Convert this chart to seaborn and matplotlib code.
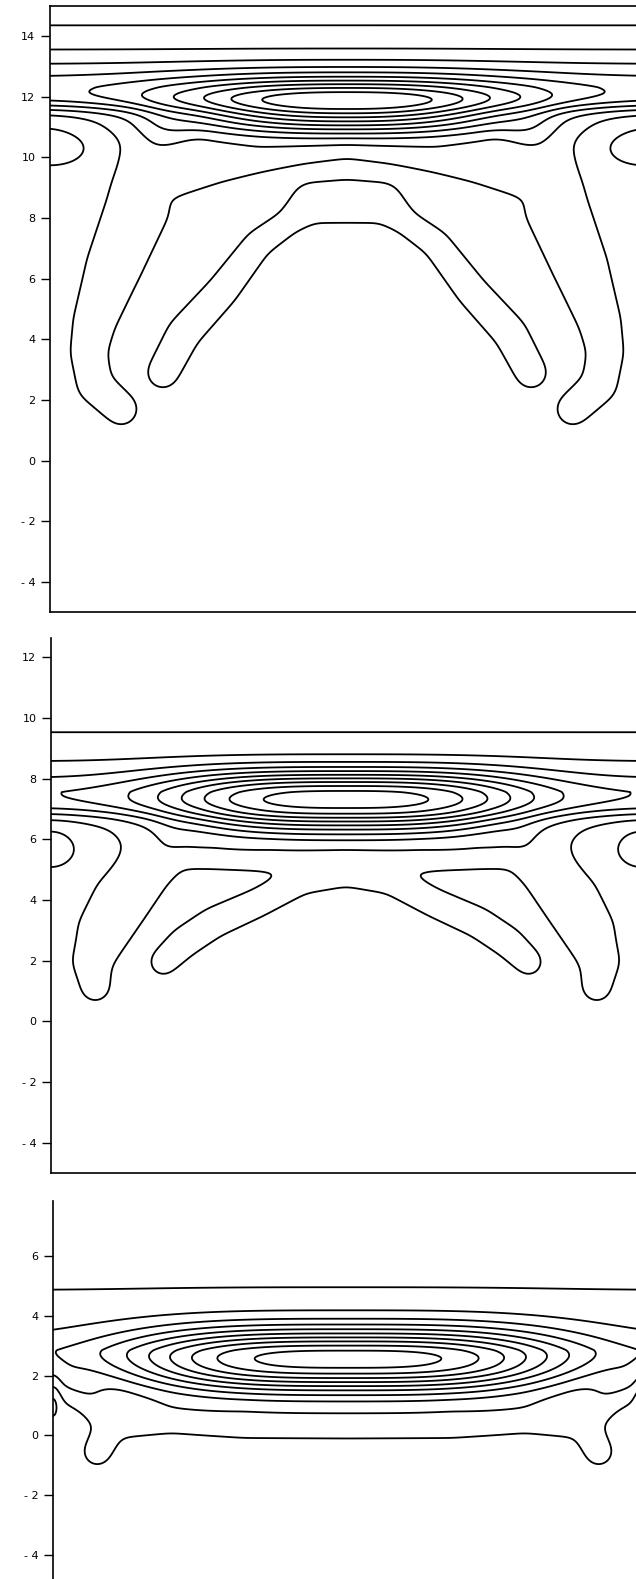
import numpy as np
import matplotlib
matplotlib.use("Agg")
import matplotlib.pyplot as plt
import seaborn as sns

sns.set_style("ticks")
plt.rcParams['font.family'] = ['DejaVu Sans']

# one unit of height measured in units of width on the page
ASPECT = 30.3 / 296.0
background = 0.5
levels = list(range(0, 11))

# ---------- panel 1 (top) ----------
p1_ylim = (-5, 15)
p1_ticks = [-4, -2, 0, 2, 4, 6, 8, 10, 12, 14]
p1_band = [4.1, 12.3, 1.25, 1.5, 0.72, 3.0]            # amp, y0, up scale, up power, down scale, down power
p1_vortex = [7.9, 11.6, 0.6, 2.5, 0.9, 2.0, 0.9, 2.0]  # amp, y0, x scale, x power, up s, up p, down s, down p
p1_lobe = [-1.0, 10.4, 0.16, 0.8]                      # amp, y0, x scale, y scale (side walls)
p1_tongue_x = [-0.62, -0.68, -0.705, -0.785, -0.85, -0.87, -0.85, -0.76]
p1_tongue_y = [10.6, 9.7, 8.35, 6.4, 4.6, 3.6, 2.5, 1.7]
p1_tongue_w = [0.10, 0.11, 0.12, 0.105, 0.08, 0.068, 0.065, 0.06]
p1_tongue_a = [1.1, 1.1, 1.1, 1.1, 1.1, 1.1, 1.1, 1.1]
p1_shelf_x = [-0.6, -0.45, -0.3, -0.15, 0.0]
p1_shelf_y = [9.3, 9.75, 9.95, 10.05, 10.1]
p1_shelf_w = [0.07, 0.065, 0.05, 0.04, 0.03]
p1_shelf_a = [1.15, 1.2, 1.05, 0.6, 0.3]
p1_arch_x = [0.0, -0.12, -0.2, -0.3, -0.42, -0.55, -0.62]
p1_arch_y = [8.55, 8.5, 7.85, 7.15, 5.6, 4.2, 2.9]
p1_arch_w = [0.08, 0.075, 0.045, 0.05, 0.058, 0.062, 0.058]
p1_arch_a = [1.1, 1.1, 1.1, 1.1, 1.1, 1.1, 1.1]

# ---------- panel 2 (middle) ----------
p2_ylim = (-5, 12.63)
p2_ticks = [-4, -2, 0, 2, 4, 6, 8, 10, 12]
p2_band = [3.38, 7.55, 1.2, 1.3, 0.78, 3.0]
p2_vortex = [7.0, 6.95, 0.61, 3.0, 1.27, 3.0, 0.93, 2.0]
p2_lobe = [-1.0, 5.7, 0.1, 0.75]
p2_tongue_x = [-0.6, -0.68, -0.76, -0.82, -0.86, -0.85]
p2_tongue_y = [5.6, 5.0, 4.0, 3.0, 2.0, 1.15]
p2_tongue_w = [0.08, 0.1, 0.11, 0.1, 0.075, 0.055]
p2_tongue_a = [1.1, 1.1, 1.1, 1.1, 1.1, 1.1]
p2_shelf_x = [-0.62, -0.45, -0.25, 0.0]
p2_shelf_y = [5.6, 5.45, 5.35, 5.45]
p2_shelf_w = [0.06, 0.045, 0.045, 0.045]
p2_shelf_a = [1.1, 1.05, 0.95, 0.7]
p2_arch_x = [0.0, -0.15, -0.3, -0.45, -0.55, -0.62]
p2_arch_y = [4.9, 4.65, 3.9, 3.25, 2.6, 1.95]
p2_arch_w = [0.05, 0.05, 0.052, 0.056, 0.056, 0.048]
p2_arch_a = [1.1, 1.1, 1.1, 1.1, 1.1, 1.1]

# ---------- panel 3 (bottom) ----------
p3_ylim = (-5, 7.84)
p3_ticks = [-4, -2, 0, 2, 4, 6]
p3_band = [2.0, 2.85, 1.5, 1.1, 0.85, 2.0]
p3_vortex = [8.4, 2.4, 0.72, 3.2, 1.17, 2.2, 1.08, 2.0]
p3_lobe = [-1.0, 1.15, 0.025, 0.66]
p3_shelf_x = [0.0, -0.35, -0.6, -0.8, -0.85]
p3_shelf_y = [0.45, 0.45, 0.62, 0.4, -0.55]
p3_shelf_w = [0.068, 0.066, 0.06, 0.06, 0.055]
p3_shelf_a = [0.9, 0.9, 1.0, 1.0, 1.0]
p3_foot_x = [-0.8, -0.87, -0.95]
p3_foot_y = [0.4, 1.2, 1.75]
p3_foot_w = [0.06, 0.055, 0.055]
p3_foot_a = [1.0, 1.0, 1.0]


def profile(d, s_up, p_up, s_dn, p_dn):
    up = np.exp(-(np.clip(d, 0, None) / s_up) ** p_up)
    dn = np.exp(-(np.clip(-d, 0, None) / s_dn) ** p_dn)
    return np.where(d >= 0, up, dn)


def ridge(X, Y, xs, ys, ws, amps):
    # ridge along a broken line, mirrored about the centre
    xm = -np.abs(X)
    ys_page = Y * ASPECT
    out = np.zeros_like(X)
    for i in range(len(xs) - 1):
        ax_, ay = xs[i], ys[i] * ASPECT
        dx, dy = xs[i + 1] - ax_, ys[i + 1] * ASPECT - ay
        t = ((xm - ax_) * dx + (ys_page - ay) * dy) / (dx * dx + dy * dy)
        t = np.clip(t, 0, 1)
        d = np.hypot(xm - (ax_ + t * dx), ys_page - (ay + t * dy))
        w = ws[i] + t * (ws[i + 1] - ws[i])
        a = amps[i] + t * (amps[i + 1] - amps[i])
        out = np.maximum(out, a * np.exp(-(d / w) ** 2))
    return out


def kernel(sigma):
    r = int(3 * sigma) + 1
    k = np.exp(-0.5 * (np.arange(-r, r + 1) / sigma) ** 2)
    return k / k.sum()


def smooth(F, sig_x, sig_y):
    kx, ky = kernel(sig_x), kernel(sig_y)
    rx, ry = len(kx) // 2, len(ky) // 2
    P = np.pad(F, ((ry, ry), (rx, rx)), mode="reflect")
    P = np.apply_along_axis(lambda v: np.convolve(v, kx, mode="valid"), 1, P)
    P = np.apply_along_axis(lambda v: np.convolve(v, ky, mode="valid"), 0, P)
    return P


def build(X, Y, band, vortex, lobe, ridges):
    F = background + band[0] * profile(Y - band[1], *band[2:])
    a, y0, sx, px, su, pu, sd, pd = vortex
    F = F + a * np.exp(-(np.abs(X) / sx) ** px) * profile(Y - y0, su, pu, sd, pd)
    la, ly, lsx, lsy = lobe
    F = F + la * np.exp(-((1 - np.abs(X)) / lsx) ** 2 - ((Y - ly) / lsy) ** 2)
    R = np.zeros_like(X)
    for r in ridges:
        R = np.maximum(R, ridge(X, Y, *r))
    # soften the corners of the broken lines (about 6 px on the page)
    px_x = 296.0 * (X[0, 1] - X[0, 0])
    px_y = 30.3 * (Y[1, 0] - Y[0, 0])
    R = smooth(R, 6.0 / px_x, 6.0 / px_y)
    return F + R


def label(t):
    return f"- {abs(t)}" if t < 0 else str(t)


panels = [
    dict(rect=[50 / 636, 1 - 612.3 / 1579, 594 / 636, 606.6 / 1579], ylim=p1_ylim, ticks=p1_ticks,
         band=p1_band, vortex=p1_vortex, lobe=p1_lobe,
         ridges=[(p1_tongue_x, p1_tongue_y, p1_tongue_w, p1_tongue_a),
                 (p1_shelf_x, p1_shelf_y, p1_shelf_w, p1_shelf_a),
                 (p1_arch_x, p1_arch_y, p1_arch_w, p1_arch_a)],
         spines=["left", "top", "bottom"]),
    dict(rect=[51 / 636, 1 - 1173 / 1579, 590 / 636, 535 / 1579], ylim=p2_ylim, ticks=p2_ticks,
         band=p2_band, vortex=p2_vortex, lobe=p2_lobe,
         ridges=[(p2_tongue_x, p2_tongue_y, p2_tongue_w, p2_tongue_a),
                 (p2_shelf_x, p2_shelf_y, p2_shelf_w, p2_shelf_a),
                 (p2_arch_x, p2_arch_y, p2_arch_w, p2_arch_a)],
         spines=["left", "bottom"]),
    dict(rect=[53 / 636, 1 - 1584.9 / 1579, 590 / 636, 383.9 / 1579], ylim=p3_ylim, ticks=p3_ticks,
         band=p3_band, vortex=p3_vortex, lobe=p3_lobe,
         ridges=[(p3_shelf_x, p3_shelf_y, p3_shelf_w, p3_shelf_a),
                 (p3_foot_x, p3_foot_y, p3_foot_w, p3_foot_a)],
         spines=["left"]),
]

fig = plt.figure(figsize=(6.36, 15.79), dpi=100)
for p in panels:
    ax = fig.add_axes(p["rect"])
    x = np.linspace(-1, 1, 801)
    y = np.linspace(p["ylim"][0], p["ylim"][1], 900)
    X, Y = np.meshgrid(x, y)
    F = build(X, Y, p["band"], p["vortex"], p["lobe"], p["ridges"])
    ax.contour(X, Y, F, levels=levels, colors="black", linewidths=1.3)
    ax.set_xlim(-1, 1)
    ax.set_ylim(*p["ylim"])
    ax.set_xticks([])
    ax.set_yticks(p["ticks"])
    ax.set_yticklabels([label(t) for t in p["ticks"]])
    ax.tick_params(axis="y", direction="out", length=6.5, width=1.0, labelsize=8,
                   pad=4, color="black", labelcolor="black")
    for side in ["left", "right", "top", "bottom"]:
        ax.spines[side].set_visible(side in p["spines"])
        ax.spines[side].set_color("black")
        ax.spines[side].set_linewidth(1.2)

fig.savefig("out.png", dpi=100)
